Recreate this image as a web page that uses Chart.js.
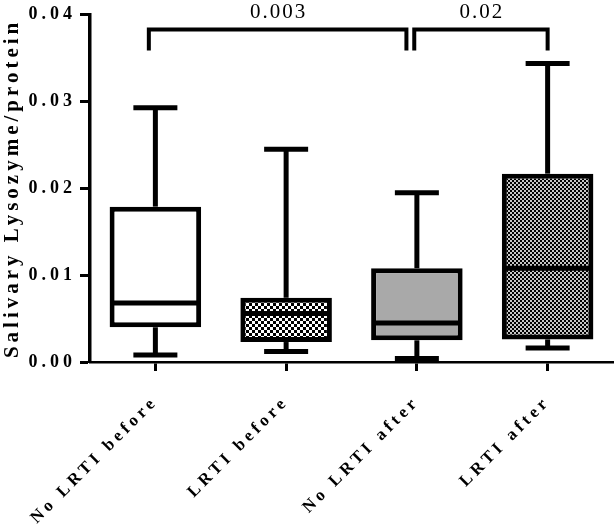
<!DOCTYPE html>
<html>
<head>
<meta charset="utf-8">
<script src="https://cdn.jsdelivr.net/npm/chart.js@4.4.0/dist/chart.umd.min.js"></script>
<style>
  body { margin: 0; background: #fff; }
  #wrap { width: 615px; height: 526px; }
</style>
</head>
<body>
<div id="wrap"><canvas id="chart"></canvas></div>
<script>
// box plot values
const categories = ['No LRTI before', 'LRTI before', 'No LRTI after', 'LRTI after'];
const minVals    = [0.0008, 0.0012, 0.0004, 0.0016];
const q1Vals     = [0.0040, 0.0023, 0.0025, 0.0026];
const medianVals = [0.0068, 0.0056, 0.0045, 0.0108];
const q3Vals     = [0.0179, 0.0074, 0.0108, 0.0217];
const maxVals    = [0.0293, 0.0245, 0.0195, 0.0344];
const yTicks     = [0, 0.01, 0.02, 0.03, 0.04];

// significance brackets: compared groups and p values
const pairs   = [[0, 2], [2, 3]];
const pValues = ['0.003', '0.02'];

function checker(cell, light, dark) {
  const c = document.createElement('canvas');
  c.width = c.height = cell * 2;
  const g = c.getContext('2d');
  g.fillStyle = light;
  g.fillRect(0, 0, cell * 2, cell * 2);
  g.fillStyle = dark;
  g.fillRect(0, 0, cell, cell);
  g.fillRect(cell, cell, cell, cell);
  return g.createPattern(c, 'repeat');
}

const fills = ['#ffffff', checker(3, '#ffffff', '#000000'), '#a9a9a9', checker(2, '#c6c6c6', '#000000')];

function line(ctx, x1, y1, x2, y2) {
  ctx.beginPath();
  ctx.moveTo(x1, y1);
  ctx.lineTo(x2, y2);
  ctx.stroke();
}

// whiskers, caps and medians on top of the floating bars
const boxPlugin = {
  id: 'boxParts',
  beforeDraw(chart) {
    chart.ctx.letterSpacing = '4px';
  },
  beforeDatasetsDraw(chart) {
    chart.ctx.letterSpacing = '0px';
  },
  afterDatasetsDraw(chart) {
    const ctx = chart.ctx;
    const y = chart.scales.y;
    const meta = chart.getDatasetMeta(0);
    ctx.save();
    ctx.strokeStyle = '#000';
    ctx.lineWidth = 5;
    meta.data.forEach((bar, i) => {
      const cx = bar.x;
      const half = bar.width / 2;
      const yMin = y.getPixelForValue(minVals[i]);
      const yMax = y.getPixelForValue(maxVals[i]);
      line(ctx, cx, y.getPixelForValue(q3Vals[i]), cx, yMax);
      line(ctx, cx, y.getPixelForValue(q1Vals[i]), cx, yMin);
      line(ctx, cx - 22, yMax, cx + 22, yMax);
      line(ctx, cx - 22, yMin, cx + 22, yMin);
      const yMed = y.getPixelForValue(medianVals[i]);
      line(ctx, cx - half + 2, yMed, cx + half - 2, yMed);
    });
    ctx.restore();
  },
  afterDraw(chart) {
    const ctx = chart.ctx;
    const x = chart.scales.x;
    const y = chart.scales.y;
    const top = y.getPixelForValue(0.0383);
    const bottom = y.getPixelForValue(0.0359);
    const offs = [[-0.05, -0.08], [-0.02, 0.0]];
    ctx.save();
    ctx.strokeStyle = '#000';
    ctx.lineWidth = 4;
    ctx.fillStyle = '#000';
    ctx.font = '21px "Liberation Serif"';
    ctx.letterSpacing = '2px';
    ctx.textAlign = 'center';
    ctx.textBaseline = 'alphabetic';
    pairs.forEach((p, i) => {
      const x1 = x.getPixelForValue(p[0] + offs[i][0]);
      const x2 = x.getPixelForValue(p[1] + offs[i][1]);
      ctx.beginPath();
      ctx.moveTo(x1, bottom);
      ctx.lineTo(x1, top);
      ctx.lineTo(x2, top);
      ctx.lineTo(x2, bottom);
      ctx.stroke();
      ctx.fillText(pValues[i], (x1 + x2) / 2 + 1, top - 12);
    });
    ctx.restore();
  }
};

new Chart(document.getElementById('chart'), {
  type: 'bar',
  data: {
    labels: categories,
    datasets: [{
      data: categories.map((_, i) => [q1Vals[i], q3Vals[i]]),
      backgroundColor: fills,
      borderColor: '#000',
      borderWidth: 5,
      borderSkipped: false,
      barPercentage: 0.7,
      categoryPercentage: 1
    }]
  },
  options: {
    responsive: true,
    maintainAspectRatio: false,
    animation: false,
    layout: { padding: { top: 14, right: 2, left: 0, bottom: 0 } },
    plugins: {
      legend: { display: false },
      tooltip: { enabled: false }
    },
    scales: {
      x: {
        offset: true,
        afterFit(scale) { scale.height = 164; },
        grid: { drawOnChartArea: false, offset: false, tickLength: 9, tickWidth: 3, tickColor: '#000' },
        border: { color: '#000', width: 2.5 },
        ticks: {
          color: '#000',
          minRotation: 45,
          maxRotation: 45,
          autoSkip: false,
          padding: 21,
          font: { family: 'Liberation Serif', size: 17, weight: 'bold' }
        }
      },
      y: {
        min: 0,
        max: 0.04,
        afterFit(scale) { scale.width = 90; },
        afterBuildTicks(scale) { scale.ticks = yTicks.map(v => ({ value: v })); },
        grid: { drawOnChartArea: false, tickLength: 10, tickWidth: 3, tickColor: '#000' },
        border: { color: '#000', width: 3.5 },
        ticks: {
          color: '#000',
          padding: 4,
          callback: v => v.toFixed(2),
          font: { family: 'Liberation Serif', size: 18, weight: 'bold' }
        },
        title: {
          display: true,
          text: 'Salivary Lysozyme/protein',
          color: '#000',
          padding: { top: 0, bottom: 0 },
          font: { family: 'Liberation Serif', size: 21, weight: 'bold' }
        }
      }
    }
  },
  plugins: [boxPlugin]
});
</script>
</body>
</html>
